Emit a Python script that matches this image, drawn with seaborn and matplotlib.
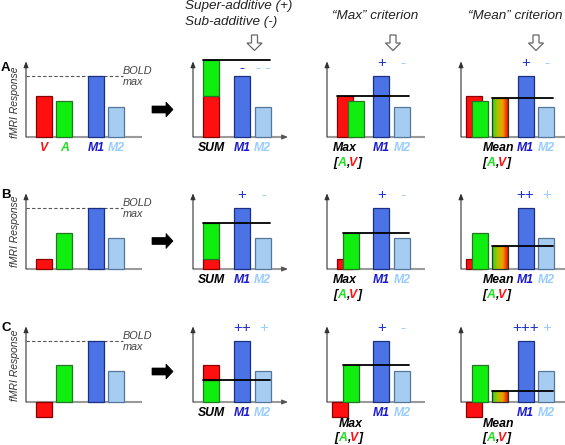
import numpy as np
import pandas as pd
import matplotlib
matplotlib.use("Agg")
import matplotlib.pyplot as plt
import seaborn as sns
from matplotlib.patches import Polygon, Rectangle
from matplotlib.colors import LinearSegmentedColormap

# ---------------- data ----------------
row_letters = ["A", "B", "C"]
v_resp = [0.67, 0.16, -0.24]     # visual response
a_resp = [0.59, 0.58, 0.60]      # auditory response
m1_resp = [1.00, 1.00, 1.00]     # multisensory neuron type 1
m2_resp = [0.49, 0.50, 0.50]     # multisensory neuron type 2
bold_max = 1.0
add_m1 = ["-", "+", "++"]
add_m2 = ["- -", "-", "+"]
max_m1 = ["+", "+", "+"]
max_m2 = ["-", "-", "-"]
mean_m1 = ["+", "++", "+++"]
mean_m2 = ["-", "+", "+"]
headers = ["Super-additive (+)", "Sub-additive (-)", "\u201cMax\u201d criterion", "\u201cMean\u201d criterion"]

# ---------------- style ----------------
sns.set_theme(style="white")
plt.rcParams["font.family"] = ["Liberation Sans", "DejaVu Sans"]

RED, GREEN, BLUE, LIGHT = "#ff1010", "#10ee10", "#3366ff", "#99ccff"
EDGE = {"r": "#880000", "g": "#227722", "b": "#1a2f80", "l": "#557799"}
LBL_BLUE = "#1a1acc"
W, H = 565, 445
U = 61.5
YLO, YHI = -0.5, 1.35
baselines = [137, 269, 402]
BW = 16
PAIR = 20.5

fig = plt.figure(figsize=(W / 100, H / 100), dpi=100)
fig.patch.set_facecolor("white")

# overlay axes in pixel units for decorations
ov = fig.add_axes([0, 0, 1, 1])
ov.set_xlim(0, W)
ov.set_ylim(H, 0)
ov.axis("off")


def panel(x0, x1, r):
    yb = baselines[r]
    bottom = yb - YLO * U
    top = yb - YHI * U
    ax = fig.add_axes([x0 / W, 1 - bottom / H, (x1 - x0) / W, (bottom - top) / H])
    return ax


def finish(ax, x0, x1):
    ax.set_xlim(x0, x1)
    ax.set_ylim(YLO, YHI)
    ax.axis("off")
    ax.patch.set_alpha(0)


def axes_lines(ax, xa, xend, arrow_x=False):
    ax.plot([xa, xend], [0, 0], color="#9a9a9a", lw=1.5, zorder=1, solid_capstyle="butt")
    ax.annotate("", xy=(xa, 1.23), xytext=(xa, 0),
                arrowprops=dict(arrowstyle="-|>,head_length=0.5,head_width=0.2",
                                color="#333333", lw=0.8, shrinkA=0, shrinkB=0,
                                mutation_scale=7))
    if arrow_x:
        ax.annotate("", xy=(xend + 2, 0), xytext=(xend - 4, 0),
                    arrowprops=dict(arrowstyle="-|>,head_length=0.5,head_width=0.2",
                                    color="#555555", lw=0.8, shrinkA=0, shrinkB=0,
                                    mutation_scale=7))


def mpair(ax, c1, r):
    df = pd.DataFrame({"x": [c1, c1 + PAIR], "y": [m1_resp[r], m2_resp[r]], "cond": ["M1", "M2"]})
    sns.barplot(data=df, x="x", y="y", hue="cond", palette={"M1": BLUE, "M2": LIGHT},
                native_scale=True, width=BW / PAIR, dodge=False, legend=False,
                errorbar=None, ax=ax, zorder=3)
    for p, ec in zip(ax.patches[-2:], [EDGE["b"], EDGE["l"]]):
        p.set_edgecolor(ec)
        p.set_linewidth(0.9)


LBL = dict(fontsize=8.8, fontweight="bold", fontstyle="italic", ha="center", va="center")
SGN = dict(fontsize=11, ha="center", va="center")


def mlabels(ax, c1, y=-0.175):
    ax.text(c1, y, "M1", color=LBL_BLUE, **LBL)
    ax.text(c1 + PAIR, y, "M2", color=LIGHT, **LBL)


def signs(ax, c1, s1, s2, y=1.2):
    ax.text(c1, y, s1, color="#2233cc", **SGN)
    ax.text(c1 + PAIR + 1, y, s2, color=LIGHT, **SGN)


def av_label(ax, x, y):
    kw = dict(fontsize=8.8, fontweight="bold", fontstyle="italic")
    t = ax.text(x, y, "[", color="black", ha="left", va="center", **kw)
    for s, col in [("A", "#22dd22"), (",", "black"), ("V", RED), ("]", "black")]:
        t = ax.annotate(s, xy=(1, 0), xycoords=t, ha="left", va="bottom", color=col, **kw)


def bar(ax, left, h, color, ec, bottom=0.0, z=3):
    ax.bar(left + BW / 2, h, width=BW, bottom=bottom, color=color, edgecolor=ec, linewidth=0.9, zorder=z)


cmap = LinearSegmentedColormap.from_list("gr", ["#10e010", "#a8c400", "#f2a000", "#e81800"])

for r in range(3):
    V, A = v_resp[r], a_resp[r]
    # ----- column 1 -----
    ax = panel(22, 150, r)
    axes_lines(ax, 26, 142)
    bar(ax, 36, V, RED, EDGE["r"])
    bar(ax, 56.5, A, GREEN, EDGE["g"])
    mpair(ax, 96, r)
    ax.plot([26, 123], [bold_max, bold_max], color="#555555", lw=0.8, ls=(0, (3, 2)), zorder=2)
    ax.text(123, bold_max + 0.07, "BOLD", fontsize=7.8, fontstyle="italic", color="#444444", ha="left", va="center")
    ax.text(123, bold_max - 0.11, "max", fontsize=7.8, fontstyle="italic", color="#444444", ha="left", va="center")
    if r == 0:
        ax.text(44, -0.175, "V", color=RED, **LBL)
        ax.text(64.5, -0.175, "A", color="#22dd22", **LBL)
        mlabels(ax, 96)
    finish(ax, 22, 150)

    # ----- column 2: SUM -----
    ax = panel(189, 292, r)
    axes_lines(ax, 193, 286, arrow_x=True)
    S = V + A
    if V >= 0:
        bar(ax, 203, V, RED, EDGE["r"])
        bar(ax, 203, A, GREEN, EDGE["g"], bottom=V)
    else:
        bar(ax, 203, S, GREEN, EDGE["g"])
        bar(ax, 203, A - S, RED, EDGE["r"], bottom=S)
    ax.plot([203, 270], [S, S], color="black", lw=1.3, zorder=5)
    mpair(ax, 242, r)
    ax.text(211, -0.175, "SUM", color="black", **LBL)
    mlabels(ax, 242)
    signs(ax, 242, add_m1[r], add_m2[r], y=1.12 if r == 0 else 1.2)
    finish(ax, 189, 292)

    # ----- column 3: MAX -----
    ax = panel(323, 430, r)
    axes_lines(ax, 327, 425)
    red_left = [337, 337, 332][r]
    green_left = [348, 343, 343][r]
    bar(ax, red_left, V, RED, EDGE["r"], z=3)
    bar(ax, green_left, A, GREEN, EDGE["g"], z=4)
    Mx = max(V, A)
    start = red_left if V >= A else green_left
    ax.plot([start, 409], [Mx, Mx], color="black", lw=1.3, zorder=5)
    mpair(ax, 381.5, r)
    if r == 2:
        ax.text(351, -0.36, "Max", color="black", **LBL)
        av_label(ax, 334, -0.58)
    else:
        ax.text(345, -0.175, "Max", color="black", **LBL)
        av_label(ax, 333, -0.43)
    mlabels(ax, 381.5)
    signs(ax, 381.5, max_m1[r], max_m2[r])
    finish(ax, 323, 430)

    # ----- column 4: MEAN -----
    ax = panel(457, 565, r)
    axes_lines(ax, 461, 565)
    bar(ax, 466, V, RED, EDGE["r"], z=3)
    bar(ax, 472, A, GREEN, EDGE["g"], z=4)
    Mn = (V + A) / 2
    grad = np.linspace(0, 1, 64).reshape(1, -1)
    ax.imshow(grad, cmap=cmap, extent=[492, 492 + BW, 0, Mn], aspect="auto", zorder=3, interpolation="bilinear")
    ax.add_patch(Rectangle((492, 0), BW, Mn, fill=False, edgecolor="#333333", lw=0.9, zorder=4))
    ax.plot([492, 553], [Mn, Mn], color="black", lw=1.3, zorder=5)
    mpair(ax, 525.5, r)
    if r == 2:
        ax.text(499, -0.35, "Mean", color="black", **LBL)
        av_label(ax, 482, -0.58)
    else:
        ax.text(499, -0.175, "Mean", color="black", **LBL)
        av_label(ax, 482, -0.43)
    mlabels(ax, 525.5)
    signs(ax, 525.5, mean_m1[r], mean_m2[r])
    finish(ax, 457, 565)

# ---------------- decorations ----------------
HK = dict(fontsize=9.7, fontstyle="italic", color="#222222", va="center")
ov.text(185, 6.5, headers[0], ha="left", **HK)
ov.text(185, 22, headers[1], ha="left", **HK)
ov.text(375, 16, headers[2], ha="center", **HK)
ov.text(515, 16, headers[3], ha="center", **HK)

for cx in [254.5, 393, 536]:
    pts = [(cx - 3, 35), (cx + 3, 35), (cx + 3, 43), (cx + 7.5, 43), (cx, 50.5),
           (cx - 7.5, 43), (cx - 3, 43)]
    ov.add_patch(Polygon(pts, closed=True, facecolor="white", edgecolor="#666666", lw=0.9))

for cy in [109.5, 241, 371.5]:
    pts = [(152, cy - 3.5), (166, cy - 3.5), (166, cy - 7.5), (173, cy), (166, cy + 7.5),
           (166, cy + 3.5), (152, cy + 3.5)]
    ov.add_patch(Polygon(pts, closed=True, facecolor="black", edgecolor="black", lw=0.5))

for letter, ly, fy in zip(row_letters, [68, 195, 328], [102, 231, 365]):
    ov.text(1, ly, letter, fontsize=9.5, fontweight="bold", color="black", ha="left", va="center")
    ov.text(15, fy, "fMRI Response", fontsize=7.5, fontstyle="italic", color="#333333",
            rotation=90, ha="center", va="center")

fig.savefig("out.png", dpi=100)
